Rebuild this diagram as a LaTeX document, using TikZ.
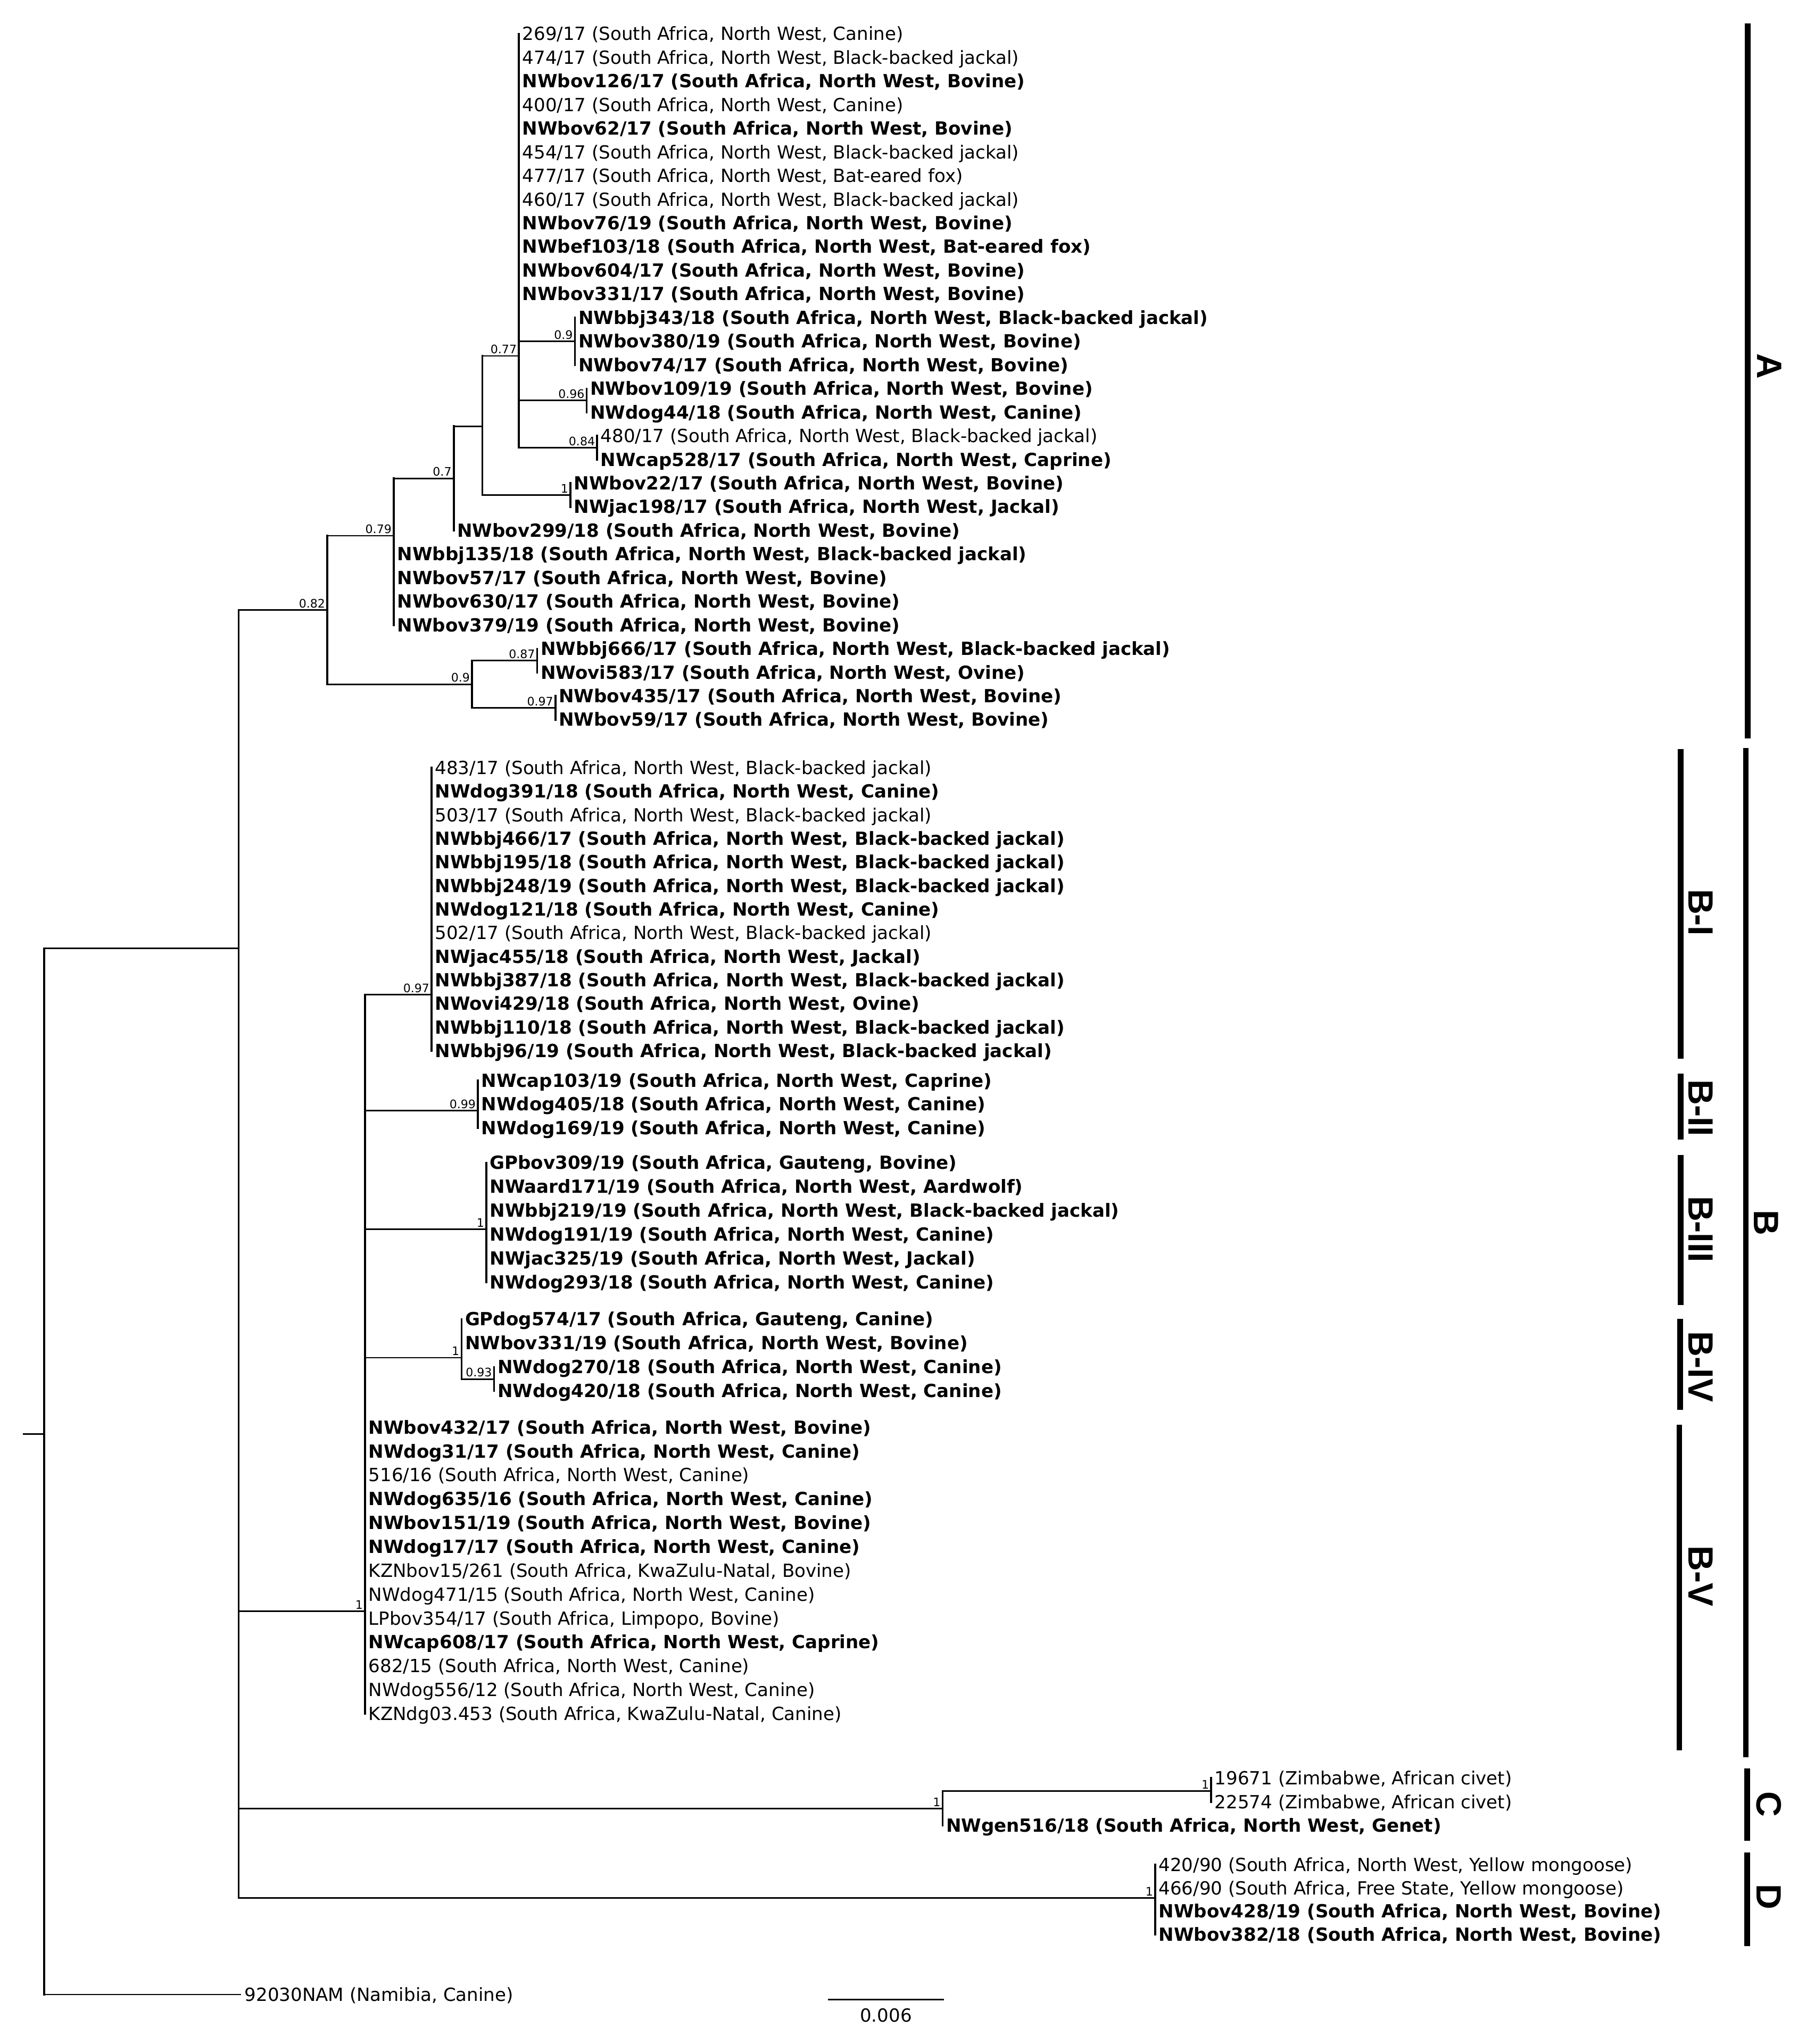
\documentclass[tikz,border=0pt]{standalone}
\usepackage{fontspec}
\setmainfont{DejaVu Sans}
\newfontfamily\cladefont{Liberation Sans}
\begin{document}
\begin{tikzpicture}[x=1pt,y=-1pt,
  br/.style={line width=1.1pt,line cap=rect},
  vt/.style={line width=1.5pt,line cap=rect},
  lfn/.style={anchor=west,inner sep=0pt,text height=10pt,text depth=0pt,font=\fontsize{13.9}{16}\selectfont},
  lfb/.style={lfn,font=\fontsize{13.9}{16}\selectfont\bfseries},
  supp/.style={anchor=south east,inner sep=0pt,font=\fontsize{9}{10}\selectfont},
  cbar/.style={line width=4.4pt},
  clab/.style={rotate=-90,inner sep=0pt,text height=19.3pt,text depth=0pt,font=\cladefont\bfseries\fontsize{27}{27}\selectfont}]
\fill[white] (0,0) rectangle (1379,1568);
\useasboundingbox (0,0) rectangle (1379,1568);

% ---------- internal nodes ----------
\coordinate (rootstub) at (18,1100);
\coordinate (nR) at (34,1100);
\coordinate (nIn) at (183,727.5);
\coordinate (nA) at (251,468);
\coordinate (nN4) at (302,411);
\coordinate (nN3) at (348,367);
\coordinate (nN2) at (370,327);
\coordinate (nN1) at (398,273);
\coordinate (n09) at (441,261.82);
\coordinate (n096) at (450,307.2);
\coordinate (n084) at (458,343.45);
\coordinate (n1a) at (437.5,379.7);
\coordinate (nN6) at (362,525);
\coordinate (n087) at (412,506.7);
\coordinate (n097a) at (426,543);
\coordinate (nB) at (280,1236);
\coordinate (nBI) at (331,763);
\coordinate (nBII) at (366.5,852);
\coordinate (nBIII) at (373,943);
\coordinate (nBIV) at (354,1041.5);
\coordinate (nBIVb) at (379,1058);
\coordinate (nC) at (723,1387.5);
\coordinate (nCv) at (929,1374);
\coordinate (nD) at (886,1456);
\coordinate (outtip) at (184.5,1530);

% ---------- leaves: clade A ----------
\node[lfn] (a0) at (400.5,26) {269/17 (South Africa, North West, Canine)};
\node[lfn] (a1) at (400.5,44.14) {474/17 (South Africa, North West, Black-backed jackal)};
\node[lfb] (a2) at (400.5,62.28) {NWbov126/17 (South Africa, North West, Bovine)};
\node[lfn] (a3) at (400.5,80.42) {400/17 (South Africa, North West, Canine)};
\node[lfb] (a4) at (400.5,98.56) {NWbov62/17 (South Africa, North West, Bovine)};
\node[lfn] (a5) at (400.5,116.7) {454/17 (South Africa, North West, Black-backed jackal)};
\node[lfn] (a6) at (400.5,134.84) {477/17 (South Africa, North West, Bat-eared fox)};
\node[lfn] (a7) at (400.5,152.98) {460/17 (South Africa, North West, Black-backed jackal)};
\node[lfb] (a8) at (400.5,171.12) {NWbov76/19 (South Africa, North West, Bovine)};
\node[lfb] (a9) at (400.5,189.26) {NWbef103/18 (South Africa, North West, Bat-eared fox)};
\node[lfb] (a10) at (400.5,207.4) {NWbov604/17 (South Africa, North West, Bovine)};
\node[lfb] (a11) at (400.5,225.54) {NWbov331/17 (South Africa, North West, Bovine)};
\node[lfb] (a12) at (443.5,243.68) {NWbbj343/18 (South Africa, North West, Black-backed jackal)};
\node[lfb] (a13) at (443.5,261.82) {NWbov380/19 (South Africa, North West, Bovine)};
\node[lfb] (a14) at (443.5,279.96) {NWbov74/17 (South Africa, North West, Bovine)};
\node[lfb] (a15) at (452.5,298.1) {NWbov109/19 (South Africa, North West, Bovine)};
\node[lfb] (a16) at (452.5,316.24) {NWdog44/18 (South Africa, North West, Canine)};
\node[lfn] (a17) at (460.5,334.38) {480/17 (South Africa, North West, Black-backed jackal)};
\node[lfb] (a18) at (460.5,352.52) {NWcap528/17 (South Africa, North West, Caprine)};
\node[lfb] (a19) at (440,370.66) {NWbov22/17 (South Africa, North West, Bovine)};
\node[lfb] (a20) at (440,388.8) {NWjac198/17 (South Africa, North West, Jackal)};
\node[lfb] (a21) at (350.5,406.94) {NWbov299/18 (South Africa, North West, Bovine)};
\node[lfb] (a22) at (304.5,425.08) {NWbbj135/18 (South Africa, North West, Black-backed jackal)};
\node[lfb] (a23) at (304.5,443.22) {NWbov57/17 (South Africa, North West, Bovine)};
\node[lfb] (a24) at (304.5,461.36) {NWbov630/17 (South Africa, North West, Bovine)};
\node[lfb] (a25) at (304.5,479.5) {NWbov379/19 (South Africa, North West, Bovine)};
\node[lfb] (a26) at (414.5,497.64) {NWbbj666/17 (South Africa, North West, Black-backed jackal)};
\node[lfb] (a27) at (414.5,515.78) {NWovi583/17 (South Africa, North West, Ovine)};
\node[lfb] (a28) at (428.5,533.92) {NWbov435/17 (South Africa, North West, Bovine)};
\node[lfb] (a29) at (428.5,552.06) {NWbov59/17 (South Africa, North West, Bovine)};

% ---------- leaves: B-I ----------
\node[lfn] (bi0) at (333.5,589) {483/17 (South Africa, North West, Black-backed jackal)};
\node[lfb] (bi1) at (333.5,607.1) {NWdog391/18 (South Africa, North West, Canine)};
\node[lfn] (bi2) at (333.5,625.2) {503/17 (South Africa, North West, Black-backed jackal)};
\node[lfb] (bi3) at (333.5,643.3) {NWbbj466/17 (South Africa, North West, Black-backed jackal)};
\node[lfb] (bi4) at (333.5,661.4) {NWbbj195/18 (South Africa, North West, Black-backed jackal)};
\node[lfb] (bi5) at (333.5,679.5) {NWbbj248/19 (South Africa, North West, Black-backed jackal)};
\node[lfb] (bi6) at (333.5,697.6) {NWdog121/18 (South Africa, North West, Canine)};
\node[lfn] (bi7) at (333.5,715.7) {502/17 (South Africa, North West, Black-backed jackal)};
\node[lfb] (bi8) at (333.5,733.8) {NWjac455/18 (South Africa, North West, Jackal)};
\node[lfb] (bi9) at (333.5,751.9) {NWbbj387/18 (South Africa, North West, Black-backed jackal)};
\node[lfb] (bi10) at (333.5,770) {NWovi429/18 (South Africa, North West, Ovine)};
\node[lfb] (bi11) at (333.5,788.1) {NWbbj110/18 (South Africa, North West, Black-backed jackal)};
\node[lfb] (bi12) at (333.5,806.2) {NWbbj96/19 (South Africa, North West, Black-backed jackal)};

% ---------- leaves: B-II ----------
\node[lfb] (bii0) at (369,829) {NWcap103/19 (South Africa, North West, Caprine)};
\node[lfb] (bii1) at (369,847.1) {NWdog405/18 (South Africa, North West, Canine)};
\node[lfb] (bii2) at (369,865.2) {NWdog169/19 (South Africa, North West, Canine)};

% ---------- leaves: B-III ----------
\node[lfb] (biii0) at (375.5,892) {GPbov309/19 (South Africa, Gauteng, Bovine)};
\node[lfb] (biii1) at (375.5,910.3) {NWaard171/19 (South Africa, North West, Aardwolf)};
\node[lfb] (biii2) at (375.5,928.6) {NWbbj219/19 (South Africa, North West, Black-backed jackal)};
\node[lfb] (biii3) at (375.5,946.9) {NWdog191/19 (South Africa, North West, Canine)};
\node[lfb] (biii4) at (375.5,965.2) {NWjac325/19 (South Africa, North West, Jackal)};
\node[lfb] (biii5) at (375.5,983.5) {NWdog293/18 (South Africa, North West, Canine)};

% ---------- leaves: B-IV ----------
\node[lfb] (biv0) at (356.5,1012) {GPdog574/17 (South Africa, Gauteng, Canine)};
\node[lfb] (biv1) at (356.5,1030.3) {NWbov331/19 (South Africa, North West, Bovine)};
\node[lfb] (biv2) at (381.5,1048.6) {NWdog270/18 (South Africa, North West, Canine)};
\node[lfb] (biv3) at (381.5,1066.9) {NWdog420/18 (South Africa, North West, Canine)};

% ---------- leaves: B-V ----------
\node[lfb] (bv0) at (282.5,1095) {NWbov432/17 (South Africa, North West, Bovine)};
\node[lfb] (bv1) at (282.5,1113.3) {NWdog31/17 (South Africa, North West, Canine)};
\node[lfn] (bv2) at (282.5,1131.6) {516/16 (South Africa, North West, Canine)};
\node[lfb] (bv3) at (282.5,1149.9) {NWdog635/16 (South Africa, North West, Canine)};
\node[lfb] (bv4) at (282.5,1168.2) {NWbov151/19 (South Africa, North West, Bovine)};
\node[lfb] (bv5) at (282.5,1186.5) {NWdog17/17 (South Africa, North West, Canine)};
\node[lfn] (bv6) at (282.5,1204.8) {KZNbov15/261 (South Africa, KwaZulu-Natal, Bovine)};
\node[lfn] (bv7) at (282.5,1223.1) {NWdog471/15 (South Africa, North West, Canine)};
\node[lfn] (bv8) at (282.5,1241.4) {LPbov354/17 (South Africa, Limpopo, Bovine)};
\node[lfb] (bv9) at (282.5,1259.7) {NWcap608/17 (South Africa, North West, Caprine)};
\node[lfn] (bv10) at (282.5,1278) {682/15 (South Africa, North West, Canine)};
\node[lfn] (bv11) at (282.5,1296.3) {NWdog556/12 (South Africa, North West, Canine)};
\node[lfn] (bv12) at (282.5,1314.6) {KZNdg03.453 (South Africa, KwaZulu-Natal, Canine)};

% ---------- leaves: C, D, outgroup ----------
\node[lfn] (c0) at (931.5,1364) {19671 (Zimbabwe, African civet)};
\node[lfn] (c1) at (931.5,1382.3) {22574 (Zimbabwe, African civet)};
\node[lfb] (c2) at (725.5,1400.5) {NWgen516/18 (South Africa, North West, Genet)};
\node[lfn] (d0) at (888.5,1430.5) {420/90 (South Africa, North West, Yellow mongoose)};
\node[lfn] (d1) at (888.5,1448.3) {466/90 (South Africa, Free State, Yellow mongoose)};
\node[lfb] (d2) at (888.5,1466.1) {NWbov428/19 (South Africa, North West, Bovine)};
\node[lfb] (d3) at (888.5,1484) {NWbov382/18 (South Africa, North West, Bovine)};
\node[lfn] (out) at (187.5,1530) {92030NAM (Namibia, Canine)};

% ---------- horizontal branches ----------
\draw[br] (rootstub) -- (nR);
\draw[br] (nR |- nIn) -- (nIn);
\draw[br] (nR |- outtip) -- (outtip);
\draw[br] (nIn |- nA) -- (nA);
\draw[br] (nIn |- nB) -- (nB);
\draw[br] (nIn |- nC) -- (nC);
\draw[br] (nIn |- nD) -- (nD);
\draw[br] (nA |- nN4) -- (nN4);
\draw[br] (nA |- nN6) -- (nN6);
\draw[br] (nN4 |- nN3) -- (nN3);
\draw[br] (nN3 |- nN2) -- (nN2);
\draw[br] (nN2 |- nN1) -- (nN1);
\draw[br] (nN2 |- n1a) -- (n1a);
\draw[br] (nN1 |- n09) -- (n09);
\draw[br] (nN1 |- n096) -- (n096);
\draw[br] (nN1 |- n084) -- (n084);
\draw[br] (nN6 |- n087) -- (n087);
\draw[br] (nN6 |- n097a) -- (n097a);
\draw[br] (nB |- nBI) -- (nBI);
\draw[br] (nB |- nBII) -- (nBII);
\draw[br] (nB |- nBIII) -- (nBIII);
\draw[br] (nB |- nBIV) -- (nBIV);
\draw[br] (nBIV |- nBIVb) -- (nBIVb);
\draw[br] (nC |- nCv) -- (nCv);

% ---------- vertical lines ----------
\draw[vt] (nR |- nIn) -- (nR |- outtip);
\draw[vt] (nIn |- nA) -- (nIn |- nD);
\draw[vt] (nA |- nN4) -- (nA |- nN6);
\draw[vt] (nN4 |- nN3) -- (nN4 |- a25.west);
\draw[vt] (nN3 |- nN2) -- (nN3 |- a21.west);
\draw[vt] (nN2 |- nN1) -- (nN2 |- n1a);
\draw[vt] (nN1 |- a0.west) -- (nN1 |- n084);
\draw[vt] (n09 |- a12.west) -- (n09 |- a14.west);
\draw[vt] (n096 |- a15.west) -- (n096 |- a16.west);
\draw[vt] (n084 |- a17.west) -- (n084 |- a18.west);
\draw[vt] (n1a |- a19.west) -- (n1a |- a20.west);
\draw[vt] (nN6 |- n087) -- (nN6 |- n097a);
\draw[vt] (n087 |- a26.west) -- (n087 |- a27.west);
\draw[vt] (n097a |- a28.west) -- (n097a |- a29.west);
\draw[vt] (nB |- nBI) -- (nB |- bv12.west);
\draw[vt] (nBI |- bi0.west) -- (nBI |- bi12.west);
\draw[vt] (nBII |- bii0.west) -- (nBII |- bii2.west);
\draw[vt] (nBIII |- biii0.west) -- (nBIII |- biii5.west);
\draw[vt] (nBIV |- biv0.west) -- (nBIV |- nBIVb);
\draw[vt] (nBIVb |- biv2.west) -- (nBIVb |- biv3.west);
\draw[vt] (nC |- nCv) -- (nC |- c2.west);
\draw[vt] (nCv |- c0.west) -- (nCv |- c1.west);
\draw[vt] (nD |- d0.west) -- (nD |- d3.west);

% ---------- support values ----------
\node[supp] (sA) at ([xshift=-1.5pt,yshift=1.5pt]nA) {0.82};
\node[supp] (sN4) at ([xshift=-1.5pt,yshift=1.5pt]nN4) {0.79};
\node[supp] (sN3) at ([xshift=-1.5pt,yshift=1.5pt]nN3) {0.7};
\node[supp] (sN1) at ([xshift=-1.5pt,yshift=1.5pt]nN1) {0.77};
\node[supp] (s09) at ([xshift=-1.5pt,yshift=1.5pt]n09) {0.9};
\node[supp] (s096) at ([xshift=-1.5pt,yshift=1.5pt]n096) {0.96};
\node[supp] (s084) at ([xshift=-1.5pt,yshift=1.5pt]n084) {0.84};
\node[supp] (s1a) at ([xshift=-1.5pt,yshift=1.5pt]n1a) {1};
\node[supp] (sN6) at ([xshift=-1.5pt,yshift=1.5pt]nN6) {0.9};
\node[supp] (s087) at ([xshift=-1.5pt,yshift=1.5pt]n087) {0.87};
\node[supp] (s097a) at ([xshift=-1.5pt,yshift=1.5pt]n097a) {0.97};
\node[supp] (sB) at ([xshift=-1.5pt,yshift=1.5pt]nB) {1};
\node[supp] (sBI) at ([xshift=-1.5pt,yshift=1.5pt]nBI) {0.97};
\node[supp] (sBII) at ([xshift=-1.5pt,yshift=1.5pt]nBII) {0.99};
\node[supp] (sBIII) at ([xshift=-1.5pt,yshift=1.5pt]nBIII) {1};
\node[supp] (sBIV) at ([xshift=-1.5pt,yshift=1.5pt]nBIV) {1};
\node[supp] (sBIVb) at ([xshift=-1.5pt,yshift=1.5pt]nBIVb) {0.93};
\node[supp] (sC) at ([xshift=-1.5pt,yshift=1.5pt]nC) {1};
\node[supp] (sCv) at ([xshift=-1.5pt,yshift=1.5pt]nCv) {1};
\node[supp] (sD) at ([xshift=-1.5pt,yshift=1.5pt]nD) {1};

% ---------- clade bars and labels ----------
\draw[cbar] (1340.5,18) -- (1340.5,566.5);
\draw[cbar] (1339,574) -- (1339,1348);
\draw[cbar] (1340,1356.5) -- (1340,1412);
\draw[cbar] (1340,1421) -- (1340,1493);
\draw[cbar] (1289,574.5) -- (1289,812);
\draw[cbar] (1289,823.5) -- (1289,874);
\draw[cbar] (1289,886) -- (1289,1001);
\draw[cbar] (1288.5,1011.7) -- (1288.5,1081.4);
\draw[cbar] (1288,1093) -- (1288,1342.7);
\node[clab] (labA) at (1357.5,281) {A};
\node[clab] (labB) at (1355,938) {B};
\node[clab] (labC) at (1357,1384) {C};
\node[clab] (labD) at (1357,1455) {D};
\node[clab] (labBI) at (1305,700) {B-I};
\node[clab] (labBII) at (1305,850) {B-II};
\node[clab] (labBIII) at (1305,943) {B-III};
\node[clab] (labBIV) at (1305,1048.5) {B-IV};
\node[clab] (labBV) at (1305,1209) {B-V};

% ---------- scale bar ----------
\coordinate (sb0) at (635,1534);
\coordinate (sb1) at (724,1534);
\draw[line width=1.3pt] (sb0) -- (sb1);
\node[lfn,anchor=center] (sbl) at (679.5,1546) {0.006};
\end{tikzpicture}
\end{document}
